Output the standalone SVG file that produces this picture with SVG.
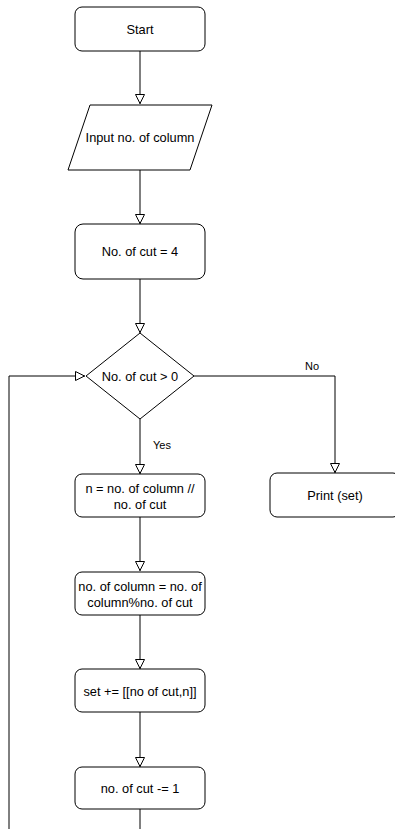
<svg xmlns="http://www.w3.org/2000/svg" width="395" height="829" viewBox="0 0 395 829">
<style>
.n{fill:#fff;stroke:#000;stroke-width:1}
.t{font-family:"Liberation Sans",Arial,sans-serif;font-size:12.8px;fill:#000;text-anchor:middle;dominant-baseline:central}
.l{font-family:"Liberation Sans",Arial,sans-serif;font-size:11px;fill:#000;text-anchor:middle;dominant-baseline:central}
.c{fill:none;stroke:#000;stroke-width:1}
</style>
<defs>
<marker id="ar" viewBox="0 0 10 10" refX="10" refY="5" markerWidth="12" markerHeight="10" markerUnits="userSpaceOnUse" orient="auto">
<path d="M0.5,0.5 L9.5,5 L0.5,9.5 Z" fill="#fff" stroke="#000" stroke-width="1"/>
</marker>
</defs>
<rect width="395" height="829" fill="#fff"/>
<g id="connectors">
<path class="c" d="M140,51 V104" marker-end="url(#ar)"/>
<path class="c" d="M140,170 V224" marker-end="url(#ar)"/>
<path class="c" d="M140,279 V333" marker-end="url(#ar)"/>
<path class="c" d="M194,376 H335 V473" marker-end="url(#ar)"/>
<path class="c" d="M140,419 V474" marker-end="url(#ar)"/>
<path class="c" d="M140,517 V571" marker-end="url(#ar)"/>
<path class="c" d="M140,615 V669" marker-end="url(#ar)"/>
<path class="c" d="M140,712 V767" marker-end="url(#ar)"/>
<path class="c" d="M140,809 V829"/>
<path class="c" d="M9,829 V376 H85" marker-end="url(#ar)"/>
<text class="l" x="312" y="366">No</text>
<text class="l" x="162" y="445">Yes</text>
</g>
<g id="start">
<rect class="n" x="75" y="7" width="130" height="44" rx="7"/>
<text class="t" x="140" y="29">Start</text>
</g>
<g id="input">
<polygon class="n" points="90,105 212,105 190,170 68,170"/>
<text class="t" x="140" y="137">Input no. of column</text>
</g>
<g id="init">
<rect class="n" x="75" y="224" width="130" height="55" rx="8"/>
<text class="t" x="140" y="251">No. of cut = 4</text>
</g>
<g id="decision">
<polygon class="n" points="140,333 194,376 140,419 86,376"/>
<text class="t" x="140" y="376">No. of cut &gt; 0</text>
</g>
<g id="print">
<rect class="n" x="270" y="473" width="130" height="44" rx="7"/>
<text class="t" x="335" y="495">Print (set)</text>
</g>
<g id="divide">
<rect class="n" x="75" y="474" width="130" height="43" rx="7"/>
<text class="t" x="140" y="488">n = no. of column //</text>
<text class="t" x="140" y="504">no. of cut</text>
</g>
<g id="modulo">
<rect class="n" x="75" y="572" width="130" height="43" rx="7"/>
<text class="t" x="140" y="586">no. of column = no. of</text>
<text class="t" x="140" y="602">column%no. of cut</text>
</g>
<g id="append">
<rect class="n" x="75" y="669" width="130" height="43" rx="7"/>
<text class="t" x="140" y="691">set += [[no of cut,n]]</text>
</g>
<g id="decrement">
<rect class="n" x="75" y="767" width="130" height="42" rx="7"/>
<text class="t" x="140" y="788">no. of cut -= 1</text>
</g>
</svg>
